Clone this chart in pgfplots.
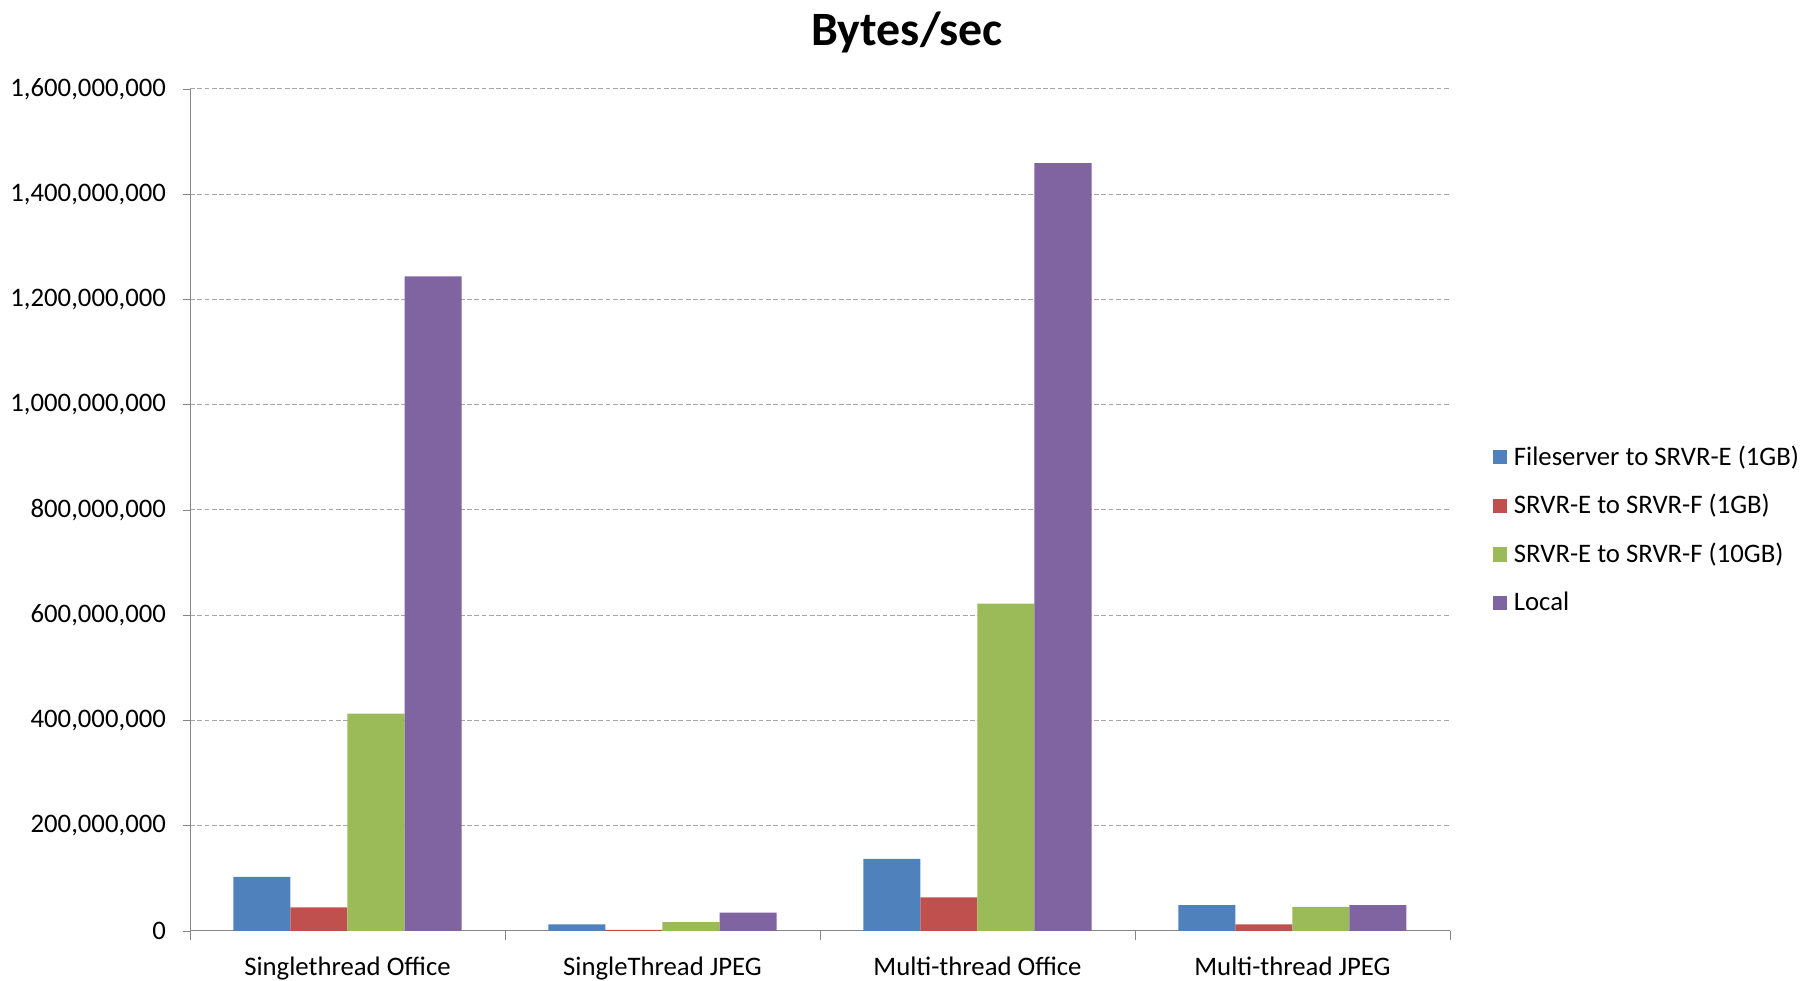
\documentclass[border=0pt]{standalone}
\usepackage{fontspec}
\setmainfont{Carlito}
\usepackage{pgfplots}
\pgfplotsset{compat=1.18}
\definecolor{cBlue}{HTML}{4F81BD}
\definecolor{cRed}{HTML}{C0504D}
\definecolor{cGreen}{HTML}{9BBB59}
\definecolor{cPurple}{HTML}{8064A2}
\definecolor{axgray}{HTML}{868686}
\definecolor{gridgray}{HTML}{A6A6A6}
\begin{document}
\begin{tikzpicture}
\useasboundingbox (0,0) rectangle (746.5pt,403.7pt);
\node[font=\fontsize{19.7}{23}\selectfont\bfseries] at (373.25pt,390.4pt) {Bytes/sec};
\begin{axis}[
  at={(78.19pt,20.58pt)}, anchor=south west,
  width=518.5pt, height=346.5pt, scale only axis,
  ybar=0pt, bar width=23.46pt,
  xmin=-0.5, xmax=3.5,
  ymin=0, ymax=1600000000,
  ytick={0,200000000,400000000,600000000,800000000,1000000000,1200000000,1400000000,1600000000},
  scaled y ticks=false,
  /pgf/number format/assume math mode=true,
  yticklabel style={/pgf/number format/fixed,/pgf/number format/1000 sep={,}, xshift=-3.4pt},
  xticklabel style={yshift=-4pt},
  xtick={0,1,2,3},
  xticklabels={Singlethread Office,SingleThread JPEG,Multi-thread Office,Multi-thread JPEG},
  minor xtick={-0.5,0.5,1.5,2.5,3.5},
  major x tick style={draw=none},
  minor x tick style={draw=axgray},
  y tick style={draw=axgray},
  tick align=outside,
  major tick length=3pt,
  minor tick length=3.7pt,
  axis x line*=bottom, axis y line*=left,
  axis line style={draw=axgray,-},
  ymajorgrids,
  major y grid style={draw=gridgray, dash pattern=on 2pt off 1pt, line width=0.4pt},
  tick label style={font=\fontsize{11}{13.2}\selectfont},
  legend style={at={(1.028,0.4766)}, anchor=west, draw=none, fill=none,
    font=\fontsize{11}{13.2}\selectfont, row sep=6.5pt,
    /tikz/every odd column/.append style={column sep=0.8pt}},
  legend cell align=left,
  legend image code/.code={\fill[#1] (0pt,-2.9pt) rectangle (5.8pt,2.9pt);},
]
\addplot[fill=cBlue, draw=none] coordinates {(0,102700000) (1,12700000) (2,137000000) (3,49000000)};
\addplot[fill=cRed, draw=none] coordinates {(0,45000000) (1,2000000) (2,64000000) (3,12700000)};
\addplot[fill=cGreen, draw=none] coordinates {(0,413000000) (1,17000000) (2,622000000) (3,45600000)};
\addplot[fill=cPurple, draw=none] coordinates {(0,1244000000) (1,35000000) (2,1459000000) (3,49000000)};
\legend{Fileserver to SRVR-E (1GB),SRVR-E to SRVR-F (1GB),SRVR-E to SRVR-F (10GB),Local}
\end{axis}
\end{tikzpicture}
\end{document}
